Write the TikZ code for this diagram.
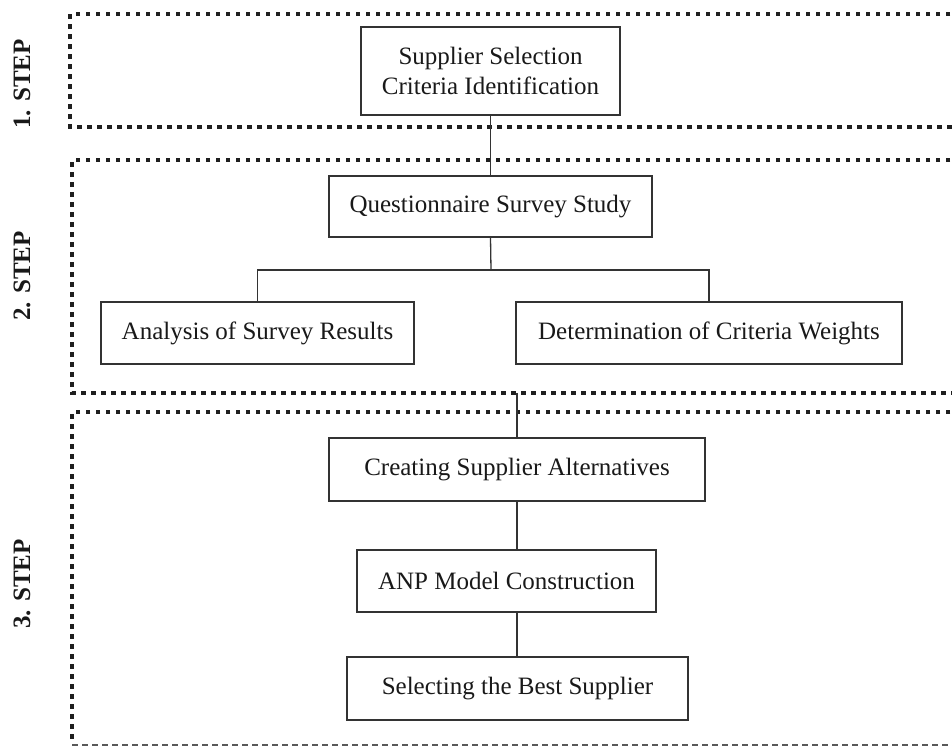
\documentclass[tikz,border=0pt]{standalone}
\usepackage{fontspec}
\setmainfont{Liberation Serif}
\begin{document}
\begin{tikzpicture}[x=1pt,y=-1pt,
  box/.style={draw=black!80, line width=1.3pt, fill=white, inner sep=0pt, align=center,
    font=\fontsize{25}{30}\selectfont, text=black!90},
  frame/.style={draw=black!88, line width=4.5pt, dash pattern=on 4.5pt off 5.5pt},
  lastline/.style={draw=black!65, line width=1.8pt, dash pattern=on 6pt off 4pt},
  link/.style={draw=black!80, line width=1.3pt},
  steplabel/.style={rotate=90, font=\fontsize{25}{30}\selectfont\bfseries, text=black!90}]
\useasboundingbox (0,0) rectangle (952,747);
\begin{scope}
\clip (0,0) rectangle (952,747);
% step frames
\draw[frame] (960,14) -- (70,14) -- (70,127) -- (960,127);
\draw[frame] (960,160) -- (72,160) -- (72,393) -- (960,393);
\draw[frame] (960,412) -- (72,412) -- (72,743);
\draw[lastline] (72,745) -- (960,745);
\end{scope}
% step labels
\node[steplabel] (l1) at (22,84) {1. STEP};
\node[steplabel] (l2) at (22,276) {2. STEP};
\node[steplabel] (l3) at (22,584) {3. STEP};
% connector anchors
\coordinate (s2b) at (517,393);
\coordinate (split) at (491,270);
% boxes
\node[box, minimum width=259pt, minimum height=88pt] (b1) at (490.5,71) {Supplier Selection\\Criteria Identification};
\node[box, minimum width=323pt, minimum height=61pt] (b2) at (490.5,206.5) {Questionnaire Survey Study};
\node[box, minimum width=313pt, minimum height=62pt] (b3) at (257.5,333) {Analysis of Survey Results};
\node[box, minimum width=386pt, minimum height=62pt] (b4) at (709,333) {Determination of Criteria Weights};
\node[box, minimum width=376pt, minimum height=63pt] (b5) at (517,469.5) {Creating Supplier Alternatives};
\node[box, minimum width=299pt, minimum height=62pt] (b6) at (506.5,581) {ANP Model Construction};
\node[box, minimum width=341pt, minimum height=63pt] (b7) at (517.5,688.5) {Selecting the Best Supplier};
% connectors
\draw[link] (b1.south) -- (b2.north);
\draw[link] (b2.south) -- (split);
\draw[link] (b3.north) |- (split) -| (b4.north);
\draw[link] (s2b) -- (b5.north);
\draw[link] (b5.south) -- (b5.south |- b6.north);
\draw[link] (b5.south |- b6.south) -- (b5.south |- b7.north);
\end{tikzpicture}
\end{document}
